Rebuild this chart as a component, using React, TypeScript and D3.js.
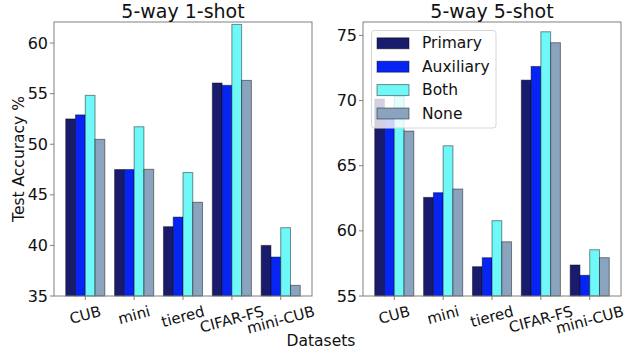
import { useEffect, useRef } from "react";
import * as d3 from "d3";

const datasets = ["CUB", "mini", "tiered", "CIFAR-FS", "mini-CUB"];
const series = ["Primary", "Auxiliary", "Both", "None"];
const colors = ["#191c6c", "#0624f4", "#6ff8f8", "#8aa3be"];

// rows follow `series`, columns follow `datasets`
const oneShot = [
  [52.5, 47.5, 41.85, 56.05, 40.0],
  [52.9, 47.5, 42.8, 55.82, 38.85],
  [54.83, 51.73, 47.2, 61.84, 41.75],
  [50.48, 47.52, 44.26, 56.31, 36.05],
];
const fiveShot = [
  [70.12, 62.57, 57.25, 71.57, 57.38],
  [69.32, 62.93, 57.94, 72.62, 56.59],
  [70.35, 66.53, 60.78, 75.28, 58.55],
  [67.66, 63.21, 59.16, 74.44, 57.94],
];
const oneShotTicks = [35, 40, 45, 50, 55, 60];
const fiveShotTicks = [55, 60, 65, 70, 75];

const W = 625;
const H = 354;
const FONT = "'DejaVu Sans', sans-serif";
const SPINE = "#808080";

export default function App() {
  const svgRef = useRef<SVGSVGElement>(null);

  useEffect(() => {
    if (!svgRef.current) return;
    const svg = d3.select(svgRef.current);
    svg.selectAll("*").remove();

    const top = 22;
    const bottom = 296;

    const panels = [
      { title: "5-way 1-shot", data: oneShot, ticks: oneShotTicks, yDomain: [35, 62.08], x0: 54, x1: 312, legend: false },
      { title: "5-way 5-shot", data: fiveShot, ticks: fiveShotTicks, yDomain: [55, 76.03], x0: 363, x1: 621, legend: true },
    ];

    panels.forEach((p) => {
      const x = d3.scaleLinear().domain([-0.64, 4.64]).range([p.x0, p.x1]);
      const y = d3.scaleLinear().domain(p.yDomain).range([bottom, top]);
      const bw = x(0.2) - x(0);
      const g = svg.append("g");

      // bars
      p.data.forEach((vals, j) => {
        g.selectAll(null)
          .data(vals)
          .join("rect")
          .attr("x", (_d, i) => x(i + (j - 1.5) * 0.2) - bw / 2)
          .attr("width", bw)
          .attr("y", (d) => y(d))
          .attr("height", (d) => y(p.yDomain[0]) - y(d))
          .attr("fill", colors[j])
          .attr("stroke", "black")
          .attr("stroke-opacity", 0.45)
          .attr("stroke-width", 1);
      });

      // frame
      g.append("rect")
        .attr("x", p.x0)
        .attr("y", top)
        .attr("width", p.x1 - p.x0)
        .attr("height", bottom - top)
        .attr("fill", "none")
        .attr("stroke", SPINE)
        .attr("stroke-width", 1);

      // y ticks
      const yt = g.selectAll(null).data(p.ticks).join("g")
        .attr("transform", (d) => `translate(${p.x0},${y(d)})`);
      yt.append("line").attr("x1", -4).attr("x2", 0).attr("stroke", SPINE);
      yt.append("text")
        .attr("x", -6)
        .attr("text-anchor", "end")
        .attr("dominant-baseline", "central")
        .attr("font-family", FONT)
        .attr("font-size", 16)
        .attr("fill", "#111")
        .text((d) => d);

      // x ticks
      datasets.forEach((name, i) => {
        const cx = x(i);
        g.append("line")
          .attr("x1", cx).attr("x2", cx)
          .attr("y1", bottom).attr("y2", bottom + 4)
          .attr("stroke", SPINE);
        const t = g.append("text")
          .attr("text-anchor", "middle")
          .attr("dominant-baseline", "central")
          .attr("font-family", FONT)
          .attr("font-size", 15)
          .attr("fill", "#111")
          .text(name);
        const tw = (t.node() as SVGTextElement).getComputedTextLength();
        const rad = (15 * Math.PI) / 180;
        const bh = tw * Math.sin(rad) + 17.5 * Math.cos(rad);
        const cy = bottom + 6.5 + bh / 2;
        t.attr("transform", `translate(${cx},${cy}) rotate(-15)`);
      });

      // title
      g.append("text")
        .attr("x", (p.x0 + p.x1) / 2)
        .attr("y", 18)
        .attr("text-anchor", "middle")
        .attr("font-family", FONT)
        .attr("font-size", 19)
        .attr("fill", "#111")
        .text(p.title);

      if (p.legend) {
        const lg = g.append("g");
        lg.append("rect")
          .attr("x", 371.5).attr("y", 30.5)
          .attr("width", 124.5).attr("height", 97.5)
          .attr("rx", 3)
          .attr("fill", "white").attr("fill-opacity", 0.8)
          .attr("stroke", "#d6d6d6");
        series.forEach((s, j) => {
          const cy = 43.3 + j * 23.4;
          lg.append("rect")
            .attr("x", 377).attr("y", cy - 5.5)
            .attr("width", 32).attr("height", 11)
            .attr("fill", colors[j])
            .attr("stroke", "black").attr("stroke-opacity", 0.45);
          lg.append("text")
            .attr("x", 422).attr("y", cy)
            .attr("dominant-baseline", "central")
            .attr("font-family", FONT)
            .attr("font-size", 15.5)
            .attr("fill", "#111")
            .text(s);
        });
      }
    });

    // shared labels
    svg.append("text")
      .attr("transform", `translate(23.5,159) rotate(-90)`)
      .attr("text-anchor", "middle")
      .attr("font-family", FONT)
      .attr("font-size", 15.5)
      .attr("fill", "#111")
      .text("Test Accuracy %");

    svg.append("text")
      .attr("x", 321)
      .attr("y", 346)
      .attr("text-anchor", "middle")
      .attr("font-family", FONT)
      .attr("font-size", 15.5)
      .attr("fill", "#111")
      .text("Datasets");
  }, []);

  return (
    <svg
      ref={svgRef}
      width={W}
      height={H}
      style={{ position: "absolute", left: 0, top: 0, background: "white" }}
    />
  );
}
